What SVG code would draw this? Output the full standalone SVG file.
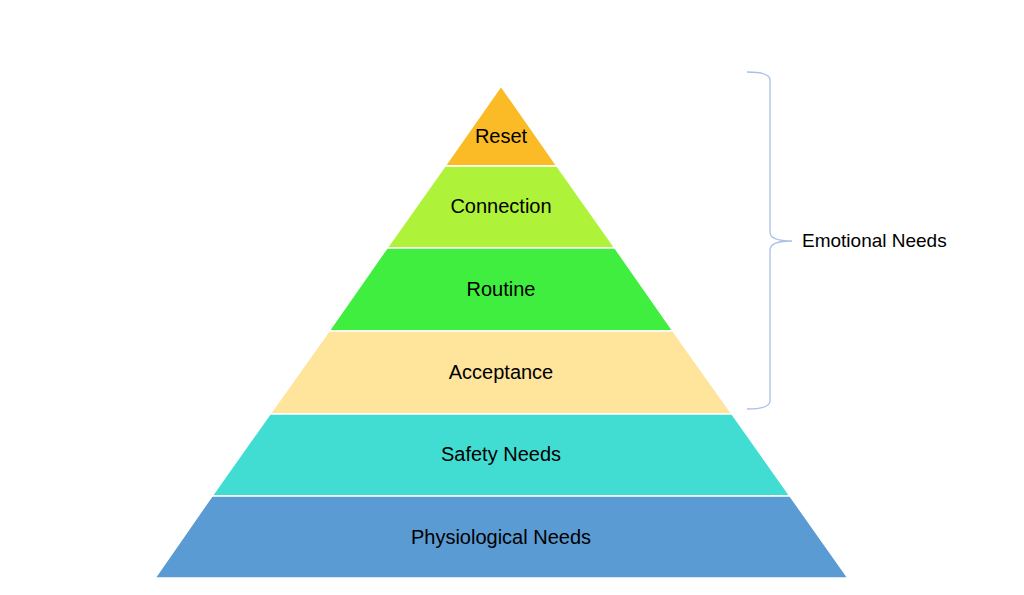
<svg xmlns="http://www.w3.org/2000/svg" width="1024" height="595" viewBox="0 0 1024 595">
<style>
.layer{stroke:#ffffff;stroke-width:1.5}
.lbl{font-family:"Liberation Sans",Arial,sans-serif;font-size:20px;fill:#000000;text-anchor:middle}
.brace{fill:none;stroke:#a9c1e6;stroke-width:1.3}
</style>
<rect width="1024" height="595" fill="#ffffff"/>
<g id="reset">
<polygon class="layer" points="501,86 557,166 445,166" fill="#fbbb26"/>
<text class="lbl" x="501" y="143">Reset</text>
</g>
<g id="connection">
<polygon class="layer" points="445,166 557,166 615,248 387,248" fill="#aef23a"/>
<text class="lbl" x="501" y="213">Connection</text>
</g>
<g id="routine">
<polygon class="layer" points="387,248 615,248 673,331 329,331" fill="#3fee3f"/>
<text class="lbl" x="501" y="296">Routine</text>
</g>
<g id="acceptance">
<polygon class="layer" points="329,331 673,331 732,414 270,414" fill="#ffe49c"/>
<text class="lbl" x="501" y="379">Acceptance</text>
</g>
<g id="safety">
<polygon class="layer" points="270,414 732,414 790,496 212,496" fill="#42ddd2"/>
<text class="lbl" x="501" y="461">Safety Needs</text>
</g>
<g id="physiological">
<polygon class="layer" points="212,496 790,496 848,578 155,578" fill="#5a9bd3"/>
<text class="lbl" x="501" y="544">Physiological Needs</text>
</g>
<g id="connectors">
<path class="brace" d="M747,72 Q770,72 770,80 L770,232 Q770,241 792,241 Q770,241 770,250 L770,401 Q770,409 747,409"/>
</g>
<g id="emotional">
<text class="lbl" x="802" y="247" style="text-anchor:start;font-size:19px">Emotional Needs</text>
</g>
</svg>
